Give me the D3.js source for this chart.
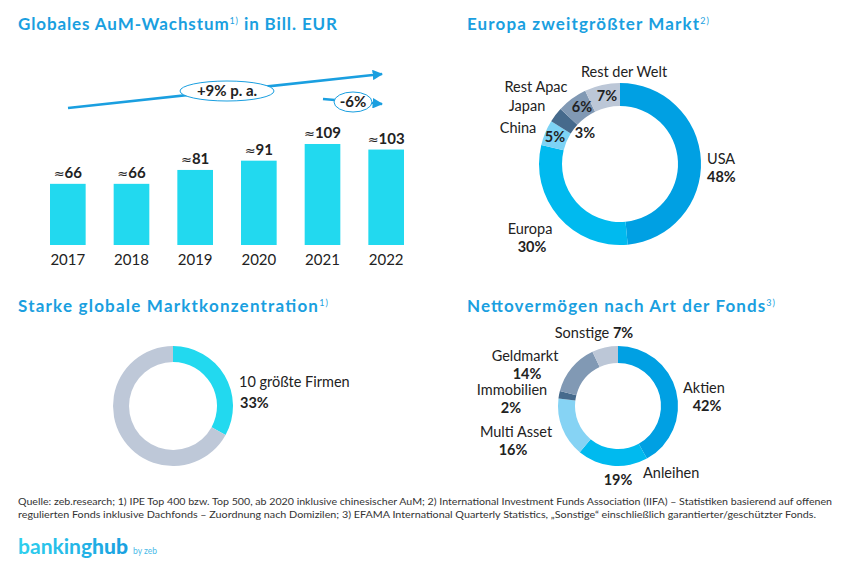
<!DOCTYPE html>
<html><head><meta charset="utf-8">
<script src="https://cdn.jsdelivr.net/npm/d3@7"></script>
<style>
body{margin:0;background:#fff;}
svg text{font-family:Lato,"Open Sans",sans-serif;}
</style></head>
<body><svg id="c" width="862" height="585"></svg>
<script>
// ---------- DATA ----------
const years = ["2017","2018","2019","2020","2021","2022"];
const aum = [66, 66, 81, 91, 109, 103];
const growthLabels = ["+9% p. a.", "-6%"];

const regions = ["USA","Europa","China","Japan","Rest Apac","Rest der Welt"];
const regionShare = [48, 30, 5, 3, 6, 7];

const concLabels = ["10 größte Firmen", "Rest"];
const concShare = [33, 67];

const fundTypes = ["Aktien","Anleihen","Multi Asset","Immobilien","Geldmarkt","Sonstige"];
const fundShare = [42, 19, 16, 2, 14, 7];

const titles = ["Globales AuM-Wachstum", "Europa zweitgrößter Markt", "Starke globale Marktkonzentration", "Nettovermögen nach Art der Fonds"];
const titleNotes = ["1)", "2)", "1)", "3)"];
const footer = [
 "Quelle: zeb.research; 1) IPE Top 400 bzw. Top 500, ab 2020 inklusive chinesischer AuM; 2) International Investment Funds Association (IIFA) – Statistiken basierend auf offenen",
 "regulierten Fonds inklusive Dachfonds – Zuordnung nach Domizilen; 3) EFAMA International Quarterly Statistics, „Sonstige“ einschließlich garantierter/geschützter Fonds."
];

// ---------- STYLE / LAYOUT ----------
const BLUE = "#1a9fe0", CYAN = "#22d9ef", TXT = "#222";
const regionColors = ["#00a0e3","#00baef","#7dd3f5","#466a8c","#8199b4","#bcc7d7"];
const fundColors   = ["#00a0e3","#00baef","#86d3f4","#466a8c","#8199b4","#bcc7d7"];
const concColors   = [CYAN, "#bec8d8"];
const LS = 14.5; // label font size

const svg = d3.select("#c");

// titles
const titlePos = [[18,30,319],[467,30,242],[18,312,310],[467,312,308]];
titles.forEach((t,i)=>{
  const [x,y,w] = titlePos[i];
  const tx = svg.append("text").attr("x",x).attr("y",y)
    .attr("fill",BLUE).attr("font-size",17).attr("font-weight",700)
    .attr("textLength",w).attr("lengthAdjust","spacing");
  tx.append("tspan").text(t);
  tx.append("tspan").attr("font-size",9).attr("font-weight",400).attr("dy",-6).text(titleNotes[i]);
  if(i===0) tx.append("tspan").attr("dy",6).text(" in Bill.  EUR");
});

// ---------- BAR CHART ----------
const x = d3.scaleBand().domain(years).range([50,404]).paddingInner(0.44).paddingOuter(0);
const y = d3.scaleLinear().domain([0,120]).range([245,245-111.2]);

svg.append("g").selectAll("rect").data(aum).join("rect")
  .attr("x",(d,i)=>x(years[i])).attr("width",x.bandwidth())
  .attr("y",d=>y(d)).attr("height",d=>y(0)-y(d)).attr("fill",CYAN);

const vl = svg.append("g").selectAll("text").data(aum).join("text")
  .attr("x",(d,i)=>x(years[i])+x.bandwidth()/2).attr("y",d=>y(d)-6)
  .attr("text-anchor","middle").attr("font-size",15).attr("font-weight",700).attr("fill",TXT);
vl.append("tspan").attr("font-family","DejaVu Sans").attr("font-weight",400).attr("font-size",13).text("≈");
vl.append("tspan").text(d=>d);

const xAxis = svg.append("g").attr("transform",`translate(0,${y(0)})`)
  .call(d3.axisBottom(x).tickSize(0).tickPadding(9));
xAxis.select(".domain").remove();
xAxis.selectAll("text").attr("font-size",15).attr("fill",TXT).attr("font-family","Lato, sans-serif");

// growth arrows
const defs = svg.append("defs");
defs.append("marker").attr("id","ah").attr("viewBox","0 0 10 10").attr("refX",9).attr("refY",5)
  .attr("markerWidth",4).attr("markerHeight",4).attr("orient","auto")
  .append("path").attr("d","M0,0L10,5L0,10Z").attr("fill",BLUE);

const arrows = [
  {x1:68,y1:108,x2:385,y2:74, cx:227,cy:91,rx:47,ry:10},
  {x1:323,y1:99,x2:385,y2:104, cx:353,cy:102,rx:19,ry:10}
];
arrows.forEach((a,i)=>{
  svg.append("line").attr("x1",a.x1).attr("y1",a.y1).attr("x2",a.x2-3).attr("y2",a.y2)
    .attr("stroke",BLUE).attr("stroke-width",2.6).attr("marker-end","url(#ah)");
  svg.append("ellipse").attr("cx",a.cx).attr("cy",a.cy).attr("rx",a.rx).attr("ry",a.ry)
    .attr("fill","#fff").attr("stroke",BLUE).attr("stroke-width",1);
  svg.append("text").attr("x",a.cx).attr("y",a.cy).attr("dy","0.36em").attr("text-anchor","middle")
    .attr("font-size",15).attr("font-weight",700).attr("fill",TXT).text(growthLabels[i]);
});

// ---------- DONUT helper ----------
function donut(cx,cy,ri,ro,vals,colors){
  const pie = d3.pie().sort(null).value(d=>d)(vals);
  const arc = d3.arc().innerRadius(ri).outerRadius(ro);
  svg.append("g").attr("transform",`translate(${cx},${cy})`)
    .selectAll("path").data(pie).join("path").attr("d",arc).attr("fill",(d,i)=>colors[i]);
}
function label(x,y,txt,opts={}){
  svg.append("text").attr("x",x).attr("y",y).attr("dy","0.36em")
    .attr("text-anchor",opts.anchor||"middle").attr("font-size",opts.size||LS)
    .attr("font-weight",opts.bold?700:400).attr("fill",TXT).text(txt);
}

// Top right: regions
const RC=[620,164];
donut(RC[0],RC[1],58,81,regionShare,regionColors);
const regLayout = [ // [nameX,nameY,anchor,pctX,pctY,pctAnchor]
  [707,159,"start",707,177,"start"],
  [530,229,"middle",532,247,"middle"],
  [518,128,"middle",555,137,"middle"],
  [527,106,"middle",585,133,"middle"],
  [536,87,"middle",582,107,"middle"],
  [624,72,"middle",607,96,"middle"]
];
regions.forEach((r,i)=>{
  const L=regLayout[i];
  label(L[0],L[1],r,{anchor:L[2]});
  label(L[3],L[4],regionShare[i]+"%",{anchor:L[5],bold:true});
});

// Bottom left: concentration
donut(173,406,44,60,concShare,concColors);
label(239,382,concLabels[0],{anchor:"start"});
label(240,403,concShare[0]+"%",{anchor:"start",bold:true});

// Bottom right: fund types
donut(618,406,43,60,fundShare,fundColors);
const fundLayout = [
  [683,388,"start",707,406,"middle"],
  [643,473,"start",618,480,"middle"],
  [516,432,"middle",513,450,"middle"],
  [512,390,"middle",511,408,"middle"],
  [525,356,"middle",527,374,"middle"]
];
fundTypes.forEach((f,i)=>{
  if(i===5) return;
  const L=fundLayout[i];
  label(L[0],L[1],f,{anchor:L[2]});
  label(L[3],L[4],fundShare[i]+"%",{anchor:L[5],bold:true});
});
// Sonstige: single line
const st = svg.append("text").attr("x",594).attr("y",333).attr("dy","0.36em").attr("text-anchor","middle")
  .attr("font-size",LS).attr("fill",TXT);
st.append("tspan").text(fundTypes[5]+" ");
st.append("tspan").attr("font-weight",700).text(fundShare[5]+"%");

// ---------- FOOTER ----------
const footW=[814,798];
footer.forEach((t,i)=>{
  svg.append("text").attr("x",18).attr("y",505+i*13).attr("font-size",9.5).attr("fill","#333")
    .attr("textLength",footW[i]).attr("lengthAdjust","spacingAndGlyphs").text(t);
});

// logo
const g = defs.append("linearGradient").attr("id","lg").attr("x1","0").attr("x2","1");
g.append("stop").attr("offset","0").attr("stop-color","#2fd0ee");
g.append("stop").attr("offset","1").attr("stop-color","#1a9fe0");
const logo = svg.append("text").attr("x",18).attr("y",554).attr("font-size",20).attr("fill","url(#lg)")
  .attr("textLength",110).attr("lengthAdjust","spacingAndGlyphs");
logo.append("tspan").attr("font-weight",700).text("banking");
logo.append("tspan").attr("font-weight",900).text("hub");
svg.append("text").attr("x",133).attr("y",554).attr("font-size",8.5).attr("fill","#4bbbe8").text("by zeb");
</script></body></html>
